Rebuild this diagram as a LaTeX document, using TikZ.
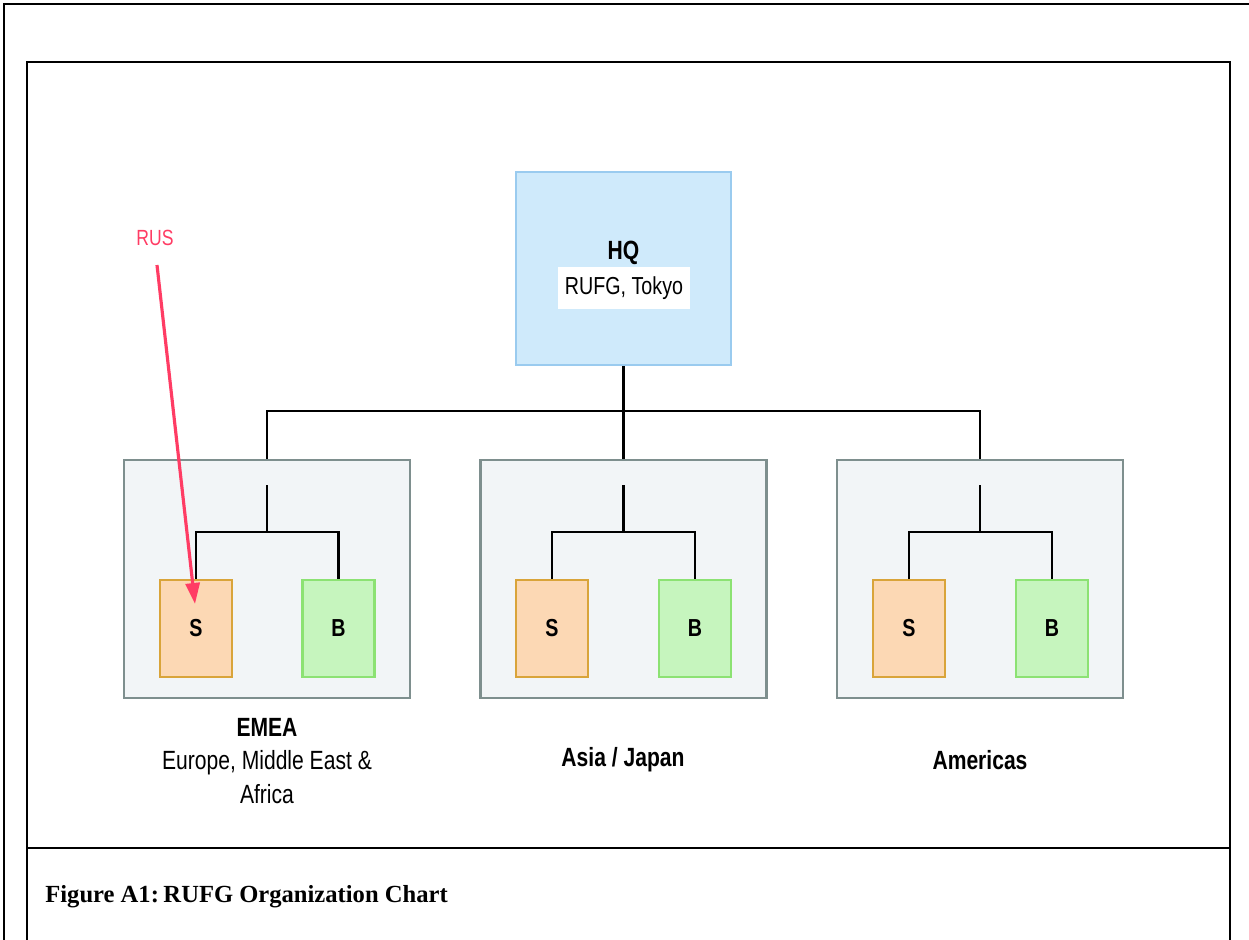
\documentclass[tikz,border=0pt]{standalone}
\usepackage{fontspec}
\usepackage{graphicx}
\usetikzlibrary{arrows.meta}
\newfontfamily\lblfont{Liberation Sans}
\newfontfamily\capfont{Liberation Serif}
\newcommand\narrowtxt[1]{\scalebox{0.8}[1]{#1}}
\definecolor{hqfill}{HTML}{CFEAFB}
\definecolor{hqdraw}{HTML}{9ACBEF}
\definecolor{regfill}{HTML}{F2F5F7}
\definecolor{regdraw}{HTML}{7E8F8E}
\definecolor{sfill}{HTML}{FCD8B4}
\definecolor{sdraw}{HTML}{D9A43A}
\definecolor{bfill}{HTML}{C6F5BE}
\definecolor{bdraw}{HTML}{8CE273}
\definecolor{rusred}{HTML}{FF3C64}
\tikzset{
  frameline/.style={draw=black, line width=1.2pt},
  hqbox/.style={draw=hqdraw, fill=hqfill, line width=1.6pt, minimum width=4.3cm, minimum height=3.86cm, inner sep=0pt},
  regbox/.style={draw=regdraw, fill=regfill, line width=1.3pt, minimum width=5.72cm, minimum height=4.76cm, inner sep=0pt},
  sbox/.style={draw=sdraw, fill=sfill, line width=1.3pt, minimum width=1.44cm, minimum height=1.94cm, inner sep=0pt, font=\lblfont\fontsize{14}{17}\selectfont\bfseries},
  bbox/.style={draw=bdraw, fill=bfill, line width=1.3pt, minimum width=1.44cm, minimum height=1.94cm, inner sep=0pt, font=\lblfont\fontsize{14}{17}\selectfont\bfseries},
  conn/.style={draw=black, line width=1.5pt},
  lbl/.style={font=\lblfont\fontsize{15}{19}\selectfont, align=center, inner sep=0pt},
  rusarrow/.style={draw=rusred, line width=1.8pt, -{Triangle[length=0.42cm,width=0.28cm]}},
}
\begin{document}
\begin{tikzpicture}[x=0.02cm,y=-0.02cm]
\useasboundingbox[fill=white] (0,0) rectangle (1249,940);
% outer frame
\draw[frameline] (4,940) -- (4,4) -- (1249,4);
% inner frame
\draw[frameline] (27,940) -- (27,62) -- (1230,62) -- (1230,940);
\draw[frameline] (27,848) -- (1230,848);
\node[anchor=west, font=\capfont\fontsize{14}{17}\selectfont\bfseries, inner sep=0pt] (caption) at (45,897) {Figure A1:\kern-0.15em{} RUFG Organization Chart};

% HQ
\node[hqbox] (hq) at (623.5,268.5) {};
\node[lbl, font=\lblfont\fontsize{15}{19}\selectfont\bfseries] (hqtitle) at (623.5,253) {\narrowtxt{HQ}};
\node[fill=white, minimum width=2.66cm, minimum height=0.86cm, inner sep=0pt, font=\lblfont\fontsize{14}{17}\selectfont] (hqsub) at (624,288) {\narrowtxt{RUFG, Tokyo}};

% regions
\node[regbox] (emea) at (267,579) {};
\node[regbox] (asia) at (623.5,579) {};
\node[regbox] (amer) at (980,579) {};

\coordinate (bus) at (623.5,411);
\draw[conn] (hq.south) -- (asia.north);
\draw[conn] (emea.north) |- (bus);
\draw[conn] (amer.north) |- (bus);

% sub boxes
\node[sbox] (s1) at (196,628.5) {\narrowtxt{S}};
\node[bbox] (b1) at (338.5,628.5) {\narrowtxt{B}};
\node[sbox] (s2) at (552,628.5) {\narrowtxt{S}};
\node[bbox] (b2) at (695,628.5) {\narrowtxt{B}};
\node[sbox] (s3) at (909,628.5) {\narrowtxt{S}};
\node[bbox] (b3) at (1052,628.5) {\narrowtxt{B}};

\coordinate (t1) at (267,485); \coordinate (j1) at (267,532);
\coordinate (t2) at (623.5,485); \coordinate (j2) at (623.5,532);
\coordinate (t3) at (980,485); \coordinate (j3) at (980,532);
\draw[conn] (t1) -- (j1);
\draw[conn] (s1.north) |- (j1) -| (b1.north);
\draw[conn] (t2) -- (j2);
\draw[conn] (s2.north) |- (j2) -| (b2.north);
\draw[conn] (t3) -- (j3);
\draw[conn] (s3.north) |- (j3) -| (b3.north);

% labels
\node[lbl] (emealbl) at (267,761) {\narrowtxt{\bfseries EMEA}\\\narrowtxt{Europe, Middle East \&}\\\narrowtxt{Africa}};
\node[lbl] (asialbl) at (623,760) {\narrowtxt{\bfseries Asia / Japan}};
\node[lbl] (amerlbl) at (980,760) {\narrowtxt{\bfseries Americas}};

% RUS annotation
\node[font=\lblfont\fontsize{12.5}{14}\selectfont, text=rusred, inner sep=0pt] (rus) at (155,238) {\narrowtxt{RUS}};
\coordinate (arrstart) at (157,265);
\coordinate (arrend) at (195,604);
\draw[rusarrow] (arrstart) -- (arrend);
\end{tikzpicture}
\end{document}
